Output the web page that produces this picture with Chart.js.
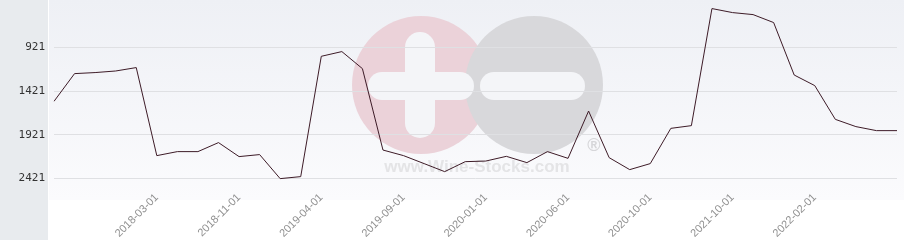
<!DOCTYPE html>
<html lang="fr">
<head>
    <meta charset="UTF-8">
    <title>Cote</title>
    <script src="https://cdn.jsdelivr.net/npm/chart.js@4/dist/chart.umd.min.js"></script>
    <style>
        body { margin: 0; background: #fff; }
        #box { width: 904px; height: 240px; position: relative; }
    </style>
</head>
<body>
<div id="box"><canvas id="mychart" width="904" height="240"></canvas></div>
<script>
    // dates des releves
    var dates = ["2017-05-01","2017-07-01","2017-09-01","2017-11-01","2018-01-01","2018-03-01","2018-05-01",
        "2018-07-01","2018-09-01","2018-11-01","2018-12-01","2019-01-01","2019-03-01","2019-04-01",
        "2019-05-01","2019-06-01","2019-07-01","2019-09-01","2019-10-01","2019-11-01","2019-12-01",
        "2020-01-01","2020-02-01","2020-03-01","2020-04-01","2020-06-01","2020-07-01","2020-08-01",
        "2020-09-01","2020-10-01","2021-01-01","2021-04-01","2021-07-01","2021-10-01","2021-11-01",
        "2021-12-01","2022-01-01","2022-02-01","2022-03-01","2022-04-01","2022-05-01","2022-06-01"]
    // rang (axe inverse)
    var rangs = [1539,1222,1210,1192,1153,2160,2114,2114,2011,2171,2148,2423,2400,1024,
        970,1165,2096,2160,2251,2343,2229,2222,2168,2240,2114,2191,1650,2183,
        2320,2251,1848,1817,478,524,547,638,1238,1359,1745,1828,1874,1874]
    var yticks = [921,1421,1921,2421]
    var xshown = ["2018-03-01","2018-11-01","2019-04-01","2019-09-01","2020-01-01",
        "2020-06-01","2020-10-01","2021-10-01","2022-02-01"]

    var fond = {
        id: 'fond',
        beforeDraw: function (chart) {
            var c = chart.ctx
            c.save()
            c.fillStyle = '#fff'
            c.fillRect(0, 0, chart.width, chart.height)
            c.fillStyle = '#e8ebee'
            c.fillRect(0, 0, 48, chart.height)
            var g = c.createLinearGradient(0, 0, 0, 200)
            g.addColorStop(0, '#eef0f5')
            g.addColorStop(1, '#fbfbfd')
            c.fillStyle = g
            c.fillRect(49, 0, chart.width - 49, 200)
            // filigrane
            c.fillStyle = '#ebd2d9'
            c.beginPath(); c.arc(421, 85, 69, 0, Math.PI * 2); c.fill()
            c.fillStyle = '#d8d8db'
            c.beginPath(); c.arc(534, 85, 69, 0, Math.PI * 2); c.fill()
            c.fillStyle = '#f4f5f8'
            c.beginPath(); c.roundRect(405, 32, 30, 106, 15); c.fill()
            c.beginPath(); c.roundRect(368, 72, 106, 28, 14); c.fill()
            c.beginPath(); c.roundRect(480, 72, 105, 28, 14); c.fill()
            c.fillStyle = '#e4e4e6'
            c.font = 'bold 17px "Liberation Sans"'
            c.textAlign = 'center'
            c.textBaseline = 'middle'
            c.fillText('www.Wine-Stocks.com', 477, 167)
            c.fillStyle = '#d6d6d9'
            c.font = 'bold 18px "Liberation Sans"'
            c.fillText('®', 594, 146)
            c.restore()
        }
    }

    var ctx = document.getElementById('mychart')
    var myChart = new Chart(ctx, {
        type: 'line',
        data: {
            labels: dates,
            datasets: [{
                data: rangs,
                borderColor: '#3d1b27',
                borderWidth: 1,
                pointRadius: 0,
                tension: 0,
                fill: false
            }]
        },
        options: {
            responsive: false,
            animation: false,
            layout: { padding: { top: 0, right: 7, left: 0, bottom: 0 } },
            plugins: { legend: { display: false }, tooltip: { enabled: false } },
            scales: {
                x: {
                    offset: false,
                    grid: { display: false },
                    border: { display: false },
                    afterFit: function (s) { s.height = 50; s.paddingLeft = 0; s.paddingRight = 0 },
                    ticks: {
                        autoSkip: false,
                        maxRotation: 45,
                        minRotation: 45,
                        padding: -7,
                        color: '#909090',
                        font: { family: 'Liberation Sans', size: 11 },
                        callback: function (v, i) {
                            return xshown.indexOf(dates[i]) >= 0 ? dates[i] : ''
                        }
                    }
                },
                y: {
                    reverse: true,
                    min: 380,
                    max: 2553,
                    border: { display: false },
                    grid: { color: '#dfe0e3', drawTicks: false },
                    afterFit: function (s) { s.width = 54; s.paddingTop = 0; s.paddingBottom = 0 },
                    afterBuildTicks: function (s) {
                        s.ticks = yticks.map(function (v) { return { value: v } })
                    },
                    ticks: {
                        padding: 9,
                        color: '#333',
                        font: { family: 'DejaVu Sans Mono', size: 11 },
                        callback: function (v) { return String(v) }
                    }
                }
            }
        },
        plugins: [fond]
    })
</script>
</body>
</html>
